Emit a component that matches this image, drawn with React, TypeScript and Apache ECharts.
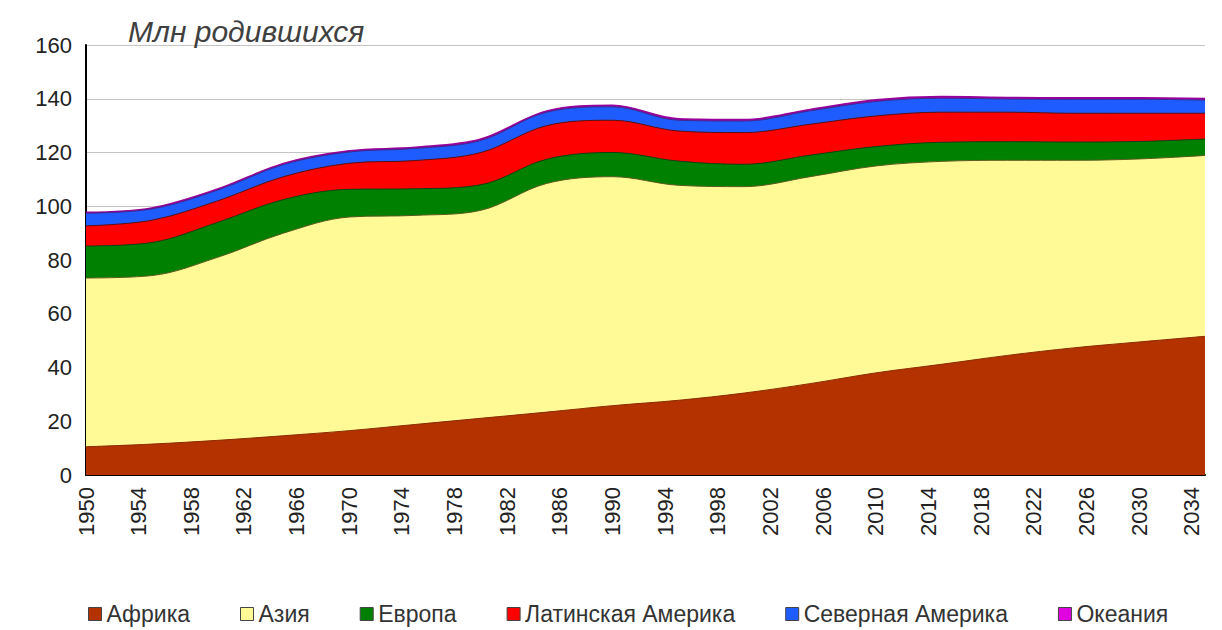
import React, { useEffect, useRef } from "react";
import * as echarts from "echarts";

const years = [1950, 1955, 1960, 1965, 1970, 1975, 1980, 1985, 1990, 1995, 2000, 2005, 2010, 2015, 2020, 2025, 2030, 2035];
const tickStartYear = 1950;

const africa = [10.5, 11.5, 12.9, 14.6, 16.5, 18.8, 21.1, 23.4, 25.8, 27.8, 30.5, 34, 38, 41.2, 44.5, 47.3, 49.5, 51.6];
const asia = [62.8, 62.7, 68.1, 75.4, 79.5, 77.8, 77.4, 85.1, 85.2, 80, 76.8, 77, 77, 75.5, 72.6, 69.8, 68.1, 67.3];
const europe = [11.9, 12.3, 13, 12.5, 10.3, 9.9, 9.5, 9, 9, 9, 8.3, 8, 7.2, 7.1, 6.9, 6.8, 6.5, 6.1];
const latinAmerica = [7.5, 8.3, 8, 8.5, 9.7, 10.5, 12, 12.5, 12, 11.2, 11.8, 11.5, 11.4, 11.2, 11, 10.7, 10.5, 9.6];
const northAmerica = [4.7, 4.2, 4, 4.5, 4.2, 4.5, 4.5, 5, 5, 4, 4.3, 5, 5.4, 5.2, 4.9, 5.2, 5.2, 4.9];
const oceania = [0.3, 0.3, 0.3, 0.35, 0.35, 0.35, 0.4, 0.4, 0.45, 0.45, 0.45, 0.45, 0.5, 0.5, 0.5, 0.5, 0.5, 0.5];

const seriesNames = ["Африка", "Азия", "Европа", "Латинская Америка", "Северная Америка", "Океания"];
const seriesValues = [africa, asia, europe, latinAmerica, northAmerica, oceania];
const fillColors = ["#b33200", "#fffa96", "#008000", "#ff0000", "#1f5cff", "#e000e0"];
const edgeColors = ["#8a2a00", "#5a5a20", "#104010", "#5a1010", "#3a2a90", "#9a009a"];

const titleText = "Млн родившихся";

export default function App() {
  const ref = useRef<HTMLDivElement>(null);
  useEffect(() => {
    if (!ref.current) return;
    const chart = echarts.init(ref.current, null, { renderer: "svg" });
    const font = "Arial, 'Liberation Sans', sans-serif";

    // cumulative (stacked) tops, built from the per-region arrays
    const cumulative: number[][] = [];
    seriesValues.forEach((vals, i) => {
      cumulative.push(vals.map((v, j) => +(v + (i > 0 ? cumulative[i - 1][j] : 0)).toFixed(2)));
    });

    chart.setOption({
      animation: false,
      backgroundColor: "#ffffff",
      textStyle: { fontFamily: font },
      title: {
        text: titleText,
        left: 123,
        top: 11,
        textStyle: { fontStyle: "italic", fontWeight: "normal", fontSize: 30, color: "#404040", fontFamily: font },
      },
      legend: {
        data: seriesNames,
        left: 88,
        top: 602,
        width: 1134,
        padding: 0,
        icon: "rect",
        itemWidth: 13,
        itemHeight: 13,
        itemGap: 50,
        textStyle: { fontSize: 23, color: "#333", fontFamily: font, lineHeight: 24 },
        itemStyle: { borderColor: "#444", borderWidth: 1 },
      },
      grid: { left: 86, right: 17, top: 45, bottom: 155 },
      xAxis: {
        type: "value",
        min: 0,
        max: years[years.length - 1] - tickStartYear,
        interval: 4,
        axisLine: { show: true, lineStyle: { color: "#000", width: 2 } },
        axisTick: { show: false },
        splitLine: { show: false },
        axisLabel: {
          rotate: 90,
          margin: 12,
          fontSize: 22,
          color: "#222",
          showMaxLabel: false,
          formatter: (v: number) => String(tickStartYear + v),
        },
      },
      yAxis: {
        type: "value",
        min: 0,
        max: 160,
        interval: 20,
        axisLine: { show: true, lineStyle: { color: "#000", width: 2 } },
        axisTick: { show: false },
        splitLine: { show: true, lineStyle: { color: "#c4c4c4", width: 1 } },
        axisLabel: { fontSize: 22, color: "#222", margin: 14 },
      },
      series: seriesNames.map((name, i) => ({
        name,
        type: "line",
        z: 10 - i,
        smooth: 0.35,
        symbol: "none",
        data: years.map((y, j) => [y - tickStartYear, cumulative[i][j]]),
        itemStyle: { color: fillColors[i] },
        lineStyle: { width: i === 5 ? 2 : 1, color: edgeColors[i] },
        areaStyle: { color: fillColors[i], opacity: 1, origin: "start" },
      })),
    });
    return () => chart.dispose();
  }, []);
  return (
    <div
      ref={ref}
      style={{ position: "absolute", left: 0, top: 0, width: 1222, height: 630 }}
    />
  );
}
